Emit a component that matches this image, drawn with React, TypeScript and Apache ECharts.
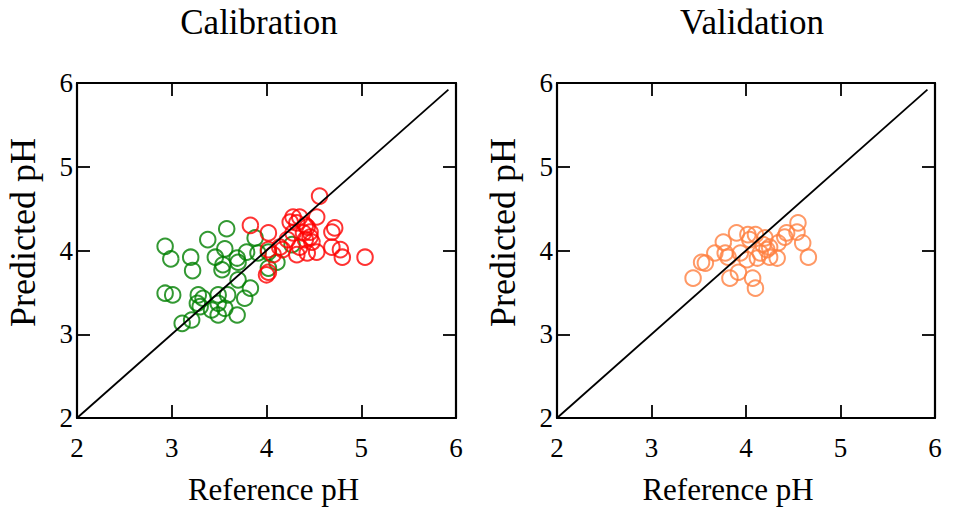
import React, { useEffect, useRef } from "react";
import * as echarts from "echarts";

// Calibration set, low-pH samples (reference pH, predicted pH)
const calGreen: [number, number][] = [
  [2.93, 4.05], [2.99, 3.9], [3.2, 3.92], [3.22, 3.76], [3.38, 4.13],
  [3.58, 4.26], [3.46, 3.92], [3.56, 4.02], [3.53, 3.77], [3.54, 3.83],
  [3.69, 3.91], [3.7, 3.86], [3.79, 3.98], [3.88, 4.15], [3.91, 3.97],
  [4.02, 3.98], [4.02, 3.79], [4.11, 3.86], [4.27, 4.07], [2.93, 3.49],
  [3.01, 3.47], [3.28, 3.47], [3.27, 3.37], [3.33, 3.43], [3.3, 3.33],
  [3.49, 3.47], [3.49, 3.37], [3.59, 3.47], [3.42, 3.29], [3.49, 3.23],
  [3.7, 3.65], [3.83, 3.55], [3.77, 3.43], [3.69, 3.23], [3.56, 3.31],
  [3.11, 3.13], [3.21, 3.17],
];

// Calibration set, high-pH samples
const calRed: [number, number][] = [
  [4.56, 4.65], [5.04, 3.92], [4.02, 4.21], [4.78, 4.01], [4.8, 3.92],
  [4.69, 4.04], [4.69, 4.22], [4.72, 4.27], [4.53, 4.4], [4.53, 3.98],
  [4.43, 3.97], [4.28, 4.4], [4.35, 4.4], [4.25, 4.34], [4.32, 4.33],
  [4.43, 4.28], [4.46, 4.22], [4.46, 4.16], [4.39, 4.21], [4.48, 4.1],
  [4.41, 4.13], [4.28, 4.21], [4.22, 4.13], [4.17, 4.01], [4.14, 4.04],
  [4.02, 4.01], [4.07, 3.95], [4.35, 4.04], [4.32, 3.95], [3.83, 4.3],
  [4.0, 3.71], [4.02, 3.74], [4.41, 4.3],
];

// Validation set
const valOrange: [number, number][] = [
  [3.44, 3.67], [3.53, 3.86], [3.57, 3.85], [3.67, 3.97], [3.76, 4.1],
  [3.9, 4.21], [3.78, 3.97], [3.81, 3.92], [3.83, 3.67], [3.92, 3.74],
  [3.94, 3.97], [4.02, 4.19], [4.1, 4.19], [4.04, 4.13], [4.07, 3.67],
  [4.1, 3.55], [4.01, 3.89], [4.12, 3.91], [4.18, 4.07], [4.22, 4.01],
  [4.25, 3.92], [4.33, 3.91], [4.34, 4.09], [4.41, 4.16], [4.43, 4.21],
  [4.55, 4.33], [4.54, 4.22], [4.6, 4.09], [4.66, 3.92], [4.15, 3.97],
  [4.2, 4.15], [4.25, 4.04],
];

// 1:1 reference line
const identityLine: [number, number][] = [[2, 2], [5.92, 5.92]];

const axisMin = 2;
const axisMax = 6;
const tickStep = 1;
const titles = ["Calibration", "Validation"];
const xName = "Reference pH";
const yName = "Predicted pH";

const FONT = "'Liberation Serif', 'Times New Roman', serif";

export default function App() {
  const ref = useRef<HTMLDivElement>(null);

  useEffect(() => {
    if (!ref.current) return;
    const chart = echarts.init(ref.current, null, { renderer: "svg" });

    const grids = [
      { left: 77, top: 83, width: 379, height: 335 },
      { left: 557, top: 83, width: 378, height: 335 },
    ];
    // horizontal nudge of each panel's x-axis title
    const xNamePadding = [
      [0, 0, 0, 14],
      [0, 36, 0, 0],
    ];

    const lineStyle = { color: "#000", width: 2.2 };
    const baseAxis = {
      min: axisMin,
      max: axisMax,
      interval: tickStep,
      splitLine: { show: false },
      axisLine: { show: true, onZero: false, lineStyle },
      axisTick: { show: true, inside: true, length: 13, lineStyle: { color: "#000", width: 1.8 } },
    };

    const xAxes: any[] = [];
    const yAxes: any[] = [];
    grids.forEach((_, i) => {
      xAxes.push({
        ...baseAxis,
        type: "value",
        gridIndex: i,
        position: "bottom",
        name: xName,
        nameLocation: "middle",
        nameGap: 56,
        nameTextStyle: { fontFamily: FONT, fontSize: 31, color: "#000", padding: xNamePadding[i] },
        axisLabel: { fontFamily: FONT, fontSize: 27, color: "#000", margin: 16 },
      });
      xAxes.push({
        ...baseAxis,
        type: "value",
        gridIndex: i,
        position: "top",
        axisLabel: { show: false },
      });
      yAxes.push({
        ...baseAxis,
        type: "value",
        gridIndex: i,
        position: "left",
        name: yName,
        nameLocation: "middle",
        nameGap: 36,
        nameTextStyle: { fontFamily: FONT, fontSize: 36, color: "#000", padding: [0, 0, 0, 36] },
        axisLabel: { fontFamily: FONT, fontSize: 27, color: "#000", margin: 4 },
      });
      yAxes.push({
        ...baseAxis,
        type: "value",
        gridIndex: i,
        position: "right",
        axisLabel: { show: false },
      });
    });

    const scatter = (data: [number, number][], color: string, grid: number) => ({
      type: "scatter",
      xAxisIndex: grid * 2,
      yAxisIndex: grid * 2,
      data,
      symbol: "circle",
      symbolSize: 15.5,
      itemStyle: { color: "rgba(0,0,0,0)", borderColor: color, borderWidth: 2 },
      z: 2,
    });

    const diag = (grid: number) => ({
      type: "line",
      xAxisIndex: grid * 2,
      yAxisIndex: grid * 2,
      data: identityLine,
      symbol: "none",
      lineStyle: { color: "#000", width: 1.8 },
      z: 3,
    });

    const titleStyle = { fontFamily: FONT, fontSize: 35, fontWeight: "normal", color: "#000" };

    chart.setOption({
      animation: false,
      backgroundColor: "#fff",
      title: [
        { text: titles[0], left: 254, top: 0, textAlign: "center", textStyle: titleStyle },
        { text: titles[1], left: 747, top: 0, textAlign: "center", textStyle: titleStyle },
      ],
      grid: grids,
      xAxis: xAxes,
      yAxis: yAxes,
      series: [
        scatter(calGreen, "#008000", 0),
        scatter(calRed, "#ff0000", 0),
        diag(0),
        scatter(valOrange, "#ff8040", 1),
        diag(1),
      ],
    });

    return () => chart.dispose();
  }, []);

  return (
    <div
      ref={ref}
      style={{ position: "fixed", left: 0, top: 0, width: 956, height: 512, background: "#fff" }}
    />
  );
}
